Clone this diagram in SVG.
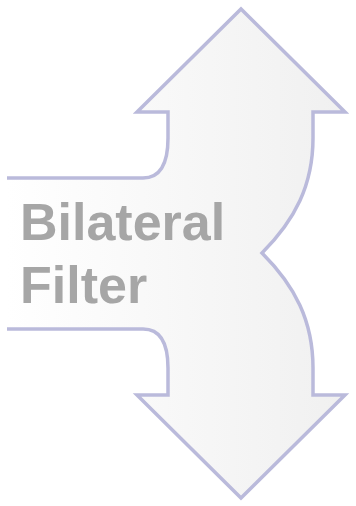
<svg xmlns="http://www.w3.org/2000/svg" width="356" height="506" viewBox="0 0 356 506">
<style>
.shape{fill:url(#g);stroke:#babadb;stroke-width:3.5;stroke-linejoin:miter}
.lbl{font-family:"Liberation Sans",Arial,sans-serif;font-weight:bold;font-size:52px;fill:#a6a6a6}
</style>
<defs>
<linearGradient id="g" x1="7" y1="0" x2="345" y2="0" gradientUnits="userSpaceOnUse">
<stop offset="0" stop-color="#ffffff"/>
<stop offset="1" stop-color="#f0f0f0"/>
</linearGradient>
</defs>
<g id="bilateral-arrow">
<path class="shape" d="M7,178 L143,178 C160,178 168,165 168,138 L168,112 L137,112 L241,9 L345,112 L313,112 L313,138 C313,185 295,220 262,253 C295,286 313,321 313,368 L313,395 L345,395 L241,498 L137,395 L168,395 L168,368 C168,342 160,329 143,329 L7,329"/>
<text class="lbl" x="20" y="240">Bilateral</text>
<text class="lbl" x="20" y="303">Filter</text>
</g>
</svg>
